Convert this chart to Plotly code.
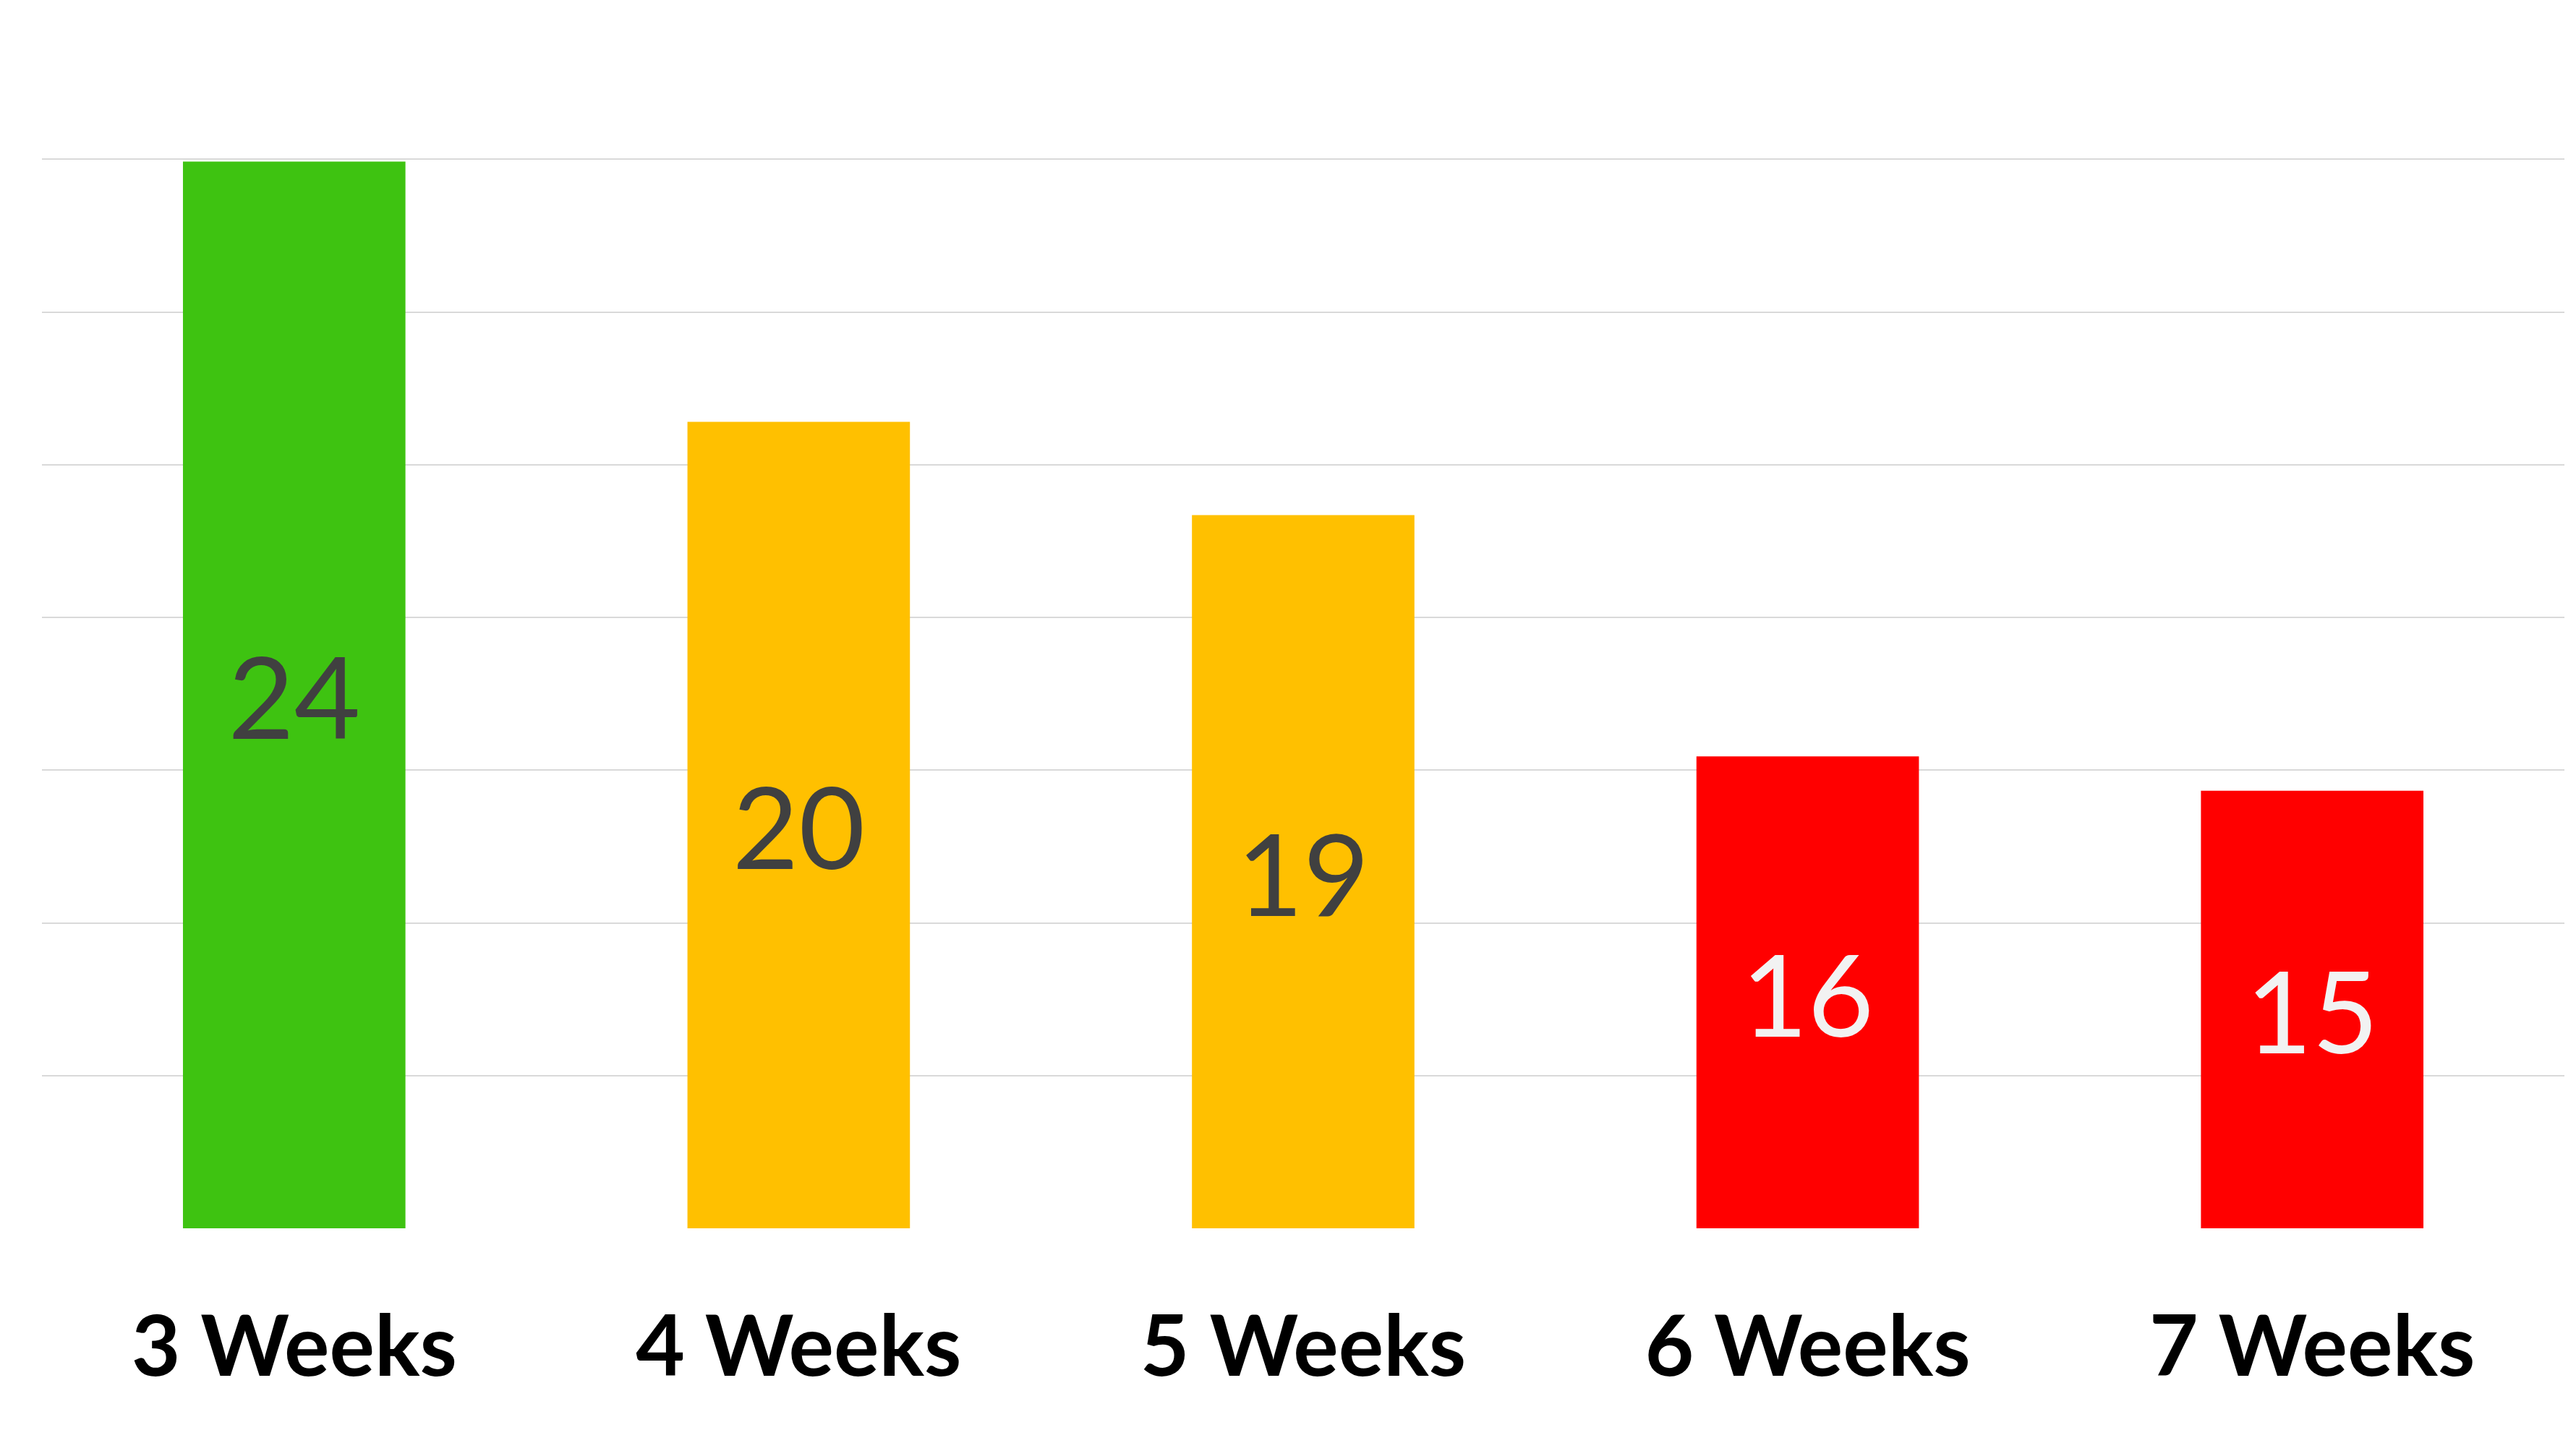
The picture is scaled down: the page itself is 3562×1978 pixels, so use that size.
import plotly.graph_objects as go

categories = ["3 Weeks", "4 Weeks", "5 Weeks", "6 Weeks", "7 Weeks"]
values = [23.97, 20.56, 19.34, 16.18, 15.73]
labels = ["24", "20", "19", "16", "15"]
bar_colors = ["#3EC311", "#FFC000", "#FFC000", "#FF0000", "#FF0000"]
label_colors = ["#404040", "#404040", "#404040", "#F2F2F2", "#F2F2F2"]

axis_min = 10
axis_max = 26

fig = go.Figure(
    go.Bar(
        x=categories,
        y=[v - axis_min for v in values],
        base=axis_min,
        marker=dict(color=bar_colors, line=dict(width=0)),
        text=labels,
        textposition="inside",
        insidetextanchor="middle",
        textangle=0,
        constraintext="none",
        textfont=dict(family="Lato", size=158, color=label_colors),
        hoverinfo="skip",
    )
)

fig.update_layout(
    width=3562,
    height=1978,
    margin=dict(l=50, r=24, t=1, b=287),
    paper_bgcolor="white",
    plot_bgcolor="white",
    bargap=0.559,
    showlegend=False,
    xaxis=dict(
        showgrid=False,
        showline=False,
        zeroline=False,
        ticks="",
        tickfont=dict(family="Lato", size=117, color="black", weight="bold"),
        ticklabelstandoff=86,
    ),
    yaxis=dict(
        range=[axis_min, axis_max],
        dtick=2,
        tick0=axis_min,
        showticklabels=False,
        showgrid=True,
        gridcolor="#D9D9D9",
        gridwidth=2,
        zeroline=False,
        showline=False,
        ticks="",
    ),
)

fig.write_html("out.html")
